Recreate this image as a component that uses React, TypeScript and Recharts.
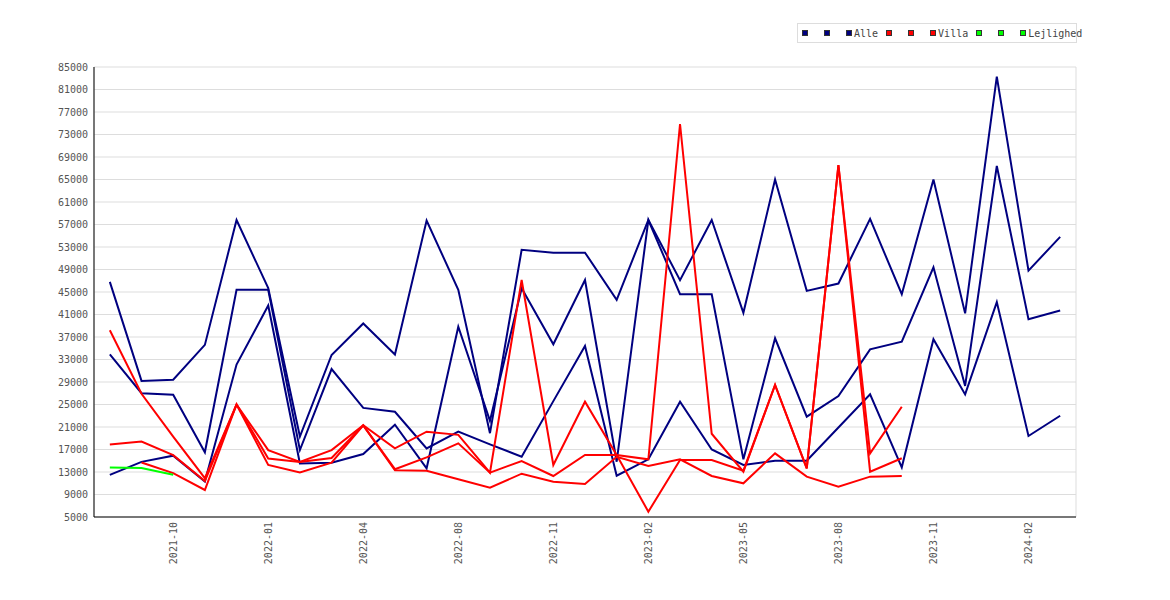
import React from "react";
import { LineChart, Line, XAxis, YAxis, CartesianGrid } from "recharts";

const months = [
  "2021-08", "2021-09", "2021-10", "2021-11", "2021-12", "2022-01", "2022-02", "2022-03",
  "2022-04", "2022-05", "2022-06", "2022-08", "2022-09", "2022-10", "2022-11", "2022-12",
  "2023-01", "2023-02", "2023-03", "2023-04", "2023-05", "2023-06", "2023-07", "2023-08",
  "2023-09", "2023-10", "2023-11", "2023-12", "2024-01", "2024-02", "2024-03",
];
const labelIdx = [2, 5, 8, 11, 14, 17, 20, 23, 26, 29];
const gridIdx = [0.5, 1.5, 2.5, 3.5, 4.5, 5.5, 6.5, 7.5, 8.5, 9.5, 10.5, 11.5, 12.5, 13.5, 14.5, 15.5,
  16.5, 17.5, 18.5, 19.5, 20.5, 21.5, 22.5, 23.5, 24.5, 25.5, 26.5, 27.5, 28.5, 29.5, 30.5];
const yTicks = [5000, 9000, 13000, 17000, 21000, 25000, 29000, 33000, 37000, 41000, 45000,
  49000, 53000, 57000, 61000, 65000, 69000, 73000, 77000, 81000, 85000];

// Alle
const alle1 = [46800, 29200, 29400, 35600, 57800, 45700, 19300, 33800, 39400, 33900, 57700,
  45400, 19900, 52500, 52000, 52000, 43600, 57800, 47100, 57800, 41300, 65000, 45200, 46500,
  58000, 44600, 65000, 41200, 83300, 48800, 54800];
const alle2 = [33900, 27000, 26750, 16500, 45400, 45400, 16900, 31300, 24400, 23700, 17200,
  20170, 17900, 15720, 25600, 35400, 12350, 15250, 25500, 17000, 14250, 15000, 15000, 20900,
  26800, 13830, 36600, 26800, 43200, 19400, 23000];
const alle3 = [12500, 14800, 15900, 11300, 32100, 42600, 14500, 14650, 16200, 21400, 13660,
  38830, 22100, 45660, 35700, 47130, 14830, 57800, 44600, 44600, 15250, 36770, 22830, 26510,
  34800, 36170, 49400, 28300, 67400, 40150, 41700];

// Villa
const villa1 = [38200, 26900, 19300, 11900, 25000, 16900, 14800, 16900, 21300, 17200, 20170,
  19600, 12880, 47130, 14250, 25500, 16020, 15250, 74870, 19800, 13050, 28470, 13660, 67580,
  16320, 24600];
const villa2 = [17900, 18400, 16000, 11400, 25000, 15400, 14800, 15500, 21300, 13500, 15600,
  18100, 12880, 14960, 12290, 16020, 16020, 5940, 15130, 15130, 13230, 28470, 13660, 67580,
  13050, 15440];
const villa3 = [null, 14700, 12800, 9800, 25000, 14250, 12900, 14650, 21300, 13300, 13230,
  11700, 10200, 12700, 11280, 10870, 15700, 14070, 15250, 12300, 10990, 16320, 12170, 10390,
  12170, 12290];

// Lejlighed
const lejlighed1 = [13800, 13700, 12500];
const lejlighed2: (number | null)[] = [];
const lejlighed3: (number | null)[] = [];

const series = [
  { key: "alle1", values: alle1, color: "#000080" },
  { key: "alle2", values: alle2, color: "#000080" },
  { key: "alle3", values: alle3, color: "#000080" },
  { key: "villa1", values: villa1, color: "#ff0000" },
  { key: "villa2", values: villa2, color: "#ff0000" },
  { key: "villa3", values: villa3, color: "#ff0000" },
  { key: "lejlighed1", values: lejlighed1, color: "#00ff00" },
  { key: "lejlighed2", values: lejlighed2, color: "#00ff00" },
  { key: "lejlighed3", values: lejlighed3, color: "#00ff00" },
];

const legendGroups = [
  { label: "Alle", color: "#000080" },
  { label: "Villa", color: "#ff0000" },
  { label: "Lejlighed", color: "#00ff00" },
];

const rows = months.map((month, i) => {
  const row: Record<string, any> = { i, month };
  series.forEach((s) => {
    row[s.key] = s.values[i] ?? null;
  });
  return row;
});

const FONT = "'DejaVu Sans Mono', monospace";

function MonthTick({ x, y, payload }: any) {
  return (
    <text
      x={x}
      y={y}
      transform={`rotate(-90 ${x} ${y})`}
      textAnchor="end"
      dominantBaseline="central"
      fontFamily={FONT}
      fontSize={10}
      fill="#555"
    >
      {months[payload.value]}
    </text>
  );
}

function LegendBox() {
  return (
    <div
      style={{
        position: "absolute",
        left: 797,
        top: 23,
        width: 280,
        height: 20,
        boxSizing: "border-box",
        border: "1px solid #ddd",
        display: "flex",
        alignItems: "center",
        paddingLeft: 4,
        fontFamily: FONT,
        fontSize: 10,
        color: "#444",
        whiteSpace: "nowrap",
        overflow: "visible",
      }}
    >
      {legendGroups.map((g) => (
        <React.Fragment key={g.label}>
          {[16, 16, 2].map((gap, k) => (
            <span
              key={k}
              style={{
                display: "inline-block",
                flex: "0 0 auto",
                boxSizing: "border-box",
                width: 6,
                height: 6,
                background: g.color,
                border: "1px solid #333",
                marginRight: gap,
              }}
            />
          ))}
          <span style={{ flex: "0 0 auto", marginRight: 8 }}>{g.label}</span>
        </React.Fragment>
      ))}
    </div>
  );
}

export default function App() {
  return (
    <div style={{ position: "absolute", left: 0, top: 0, width: 1170, height: 600, background: "#fff" }}>
      <LineChart
        width={1170}
        height={600}
        data={rows}
        margin={{ top: 67, right: 94, left: 34, bottom: 33 }}
      >
        <XAxis
          xAxisId="grid"
          dataKey="i"
          type="number"
          domain={[-0.5, 30.5]}
          ticks={gridIdx}
          tick={false}
          tickLine={false}
          axisLine={false}
          height={0}
          orientation="top"
        />
        <CartesianGrid xAxisId="grid" stroke="#dddddd" />
        <XAxis
          dataKey="i"
          type="number"
          domain={[-0.5, 30.5]}
          ticks={labelIdx}
          interval={0}
          tick={<MonthTick />}
          tickLine={false}
          tickSize={0}
          tickMargin={5}
          axisLine={{ stroke: "#000" }}
          height={50}
        />
        <YAxis
          type="number"
          domain={[5000, 85000]}
          ticks={yTicks}
          interval={0}
          tickLine={false}
          tickSize={0}
          tickMargin={6}
          axisLine={{ stroke: "#000" }}
          width={60}
          tick={{ fontFamily: FONT, fontSize: 10, fill: "#555" }}
        />
        {series.map((s) => (
          <Line
            key={s.key}
            dataKey={s.key}
            type="linear"
            stroke={s.color}
            strokeWidth={2}
            dot={false}
            activeDot={false}
            connectNulls={false}
            isAnimationActive={false}
          />
        ))}
      </LineChart>
      <LegendBox />
    </div>
  );
}
